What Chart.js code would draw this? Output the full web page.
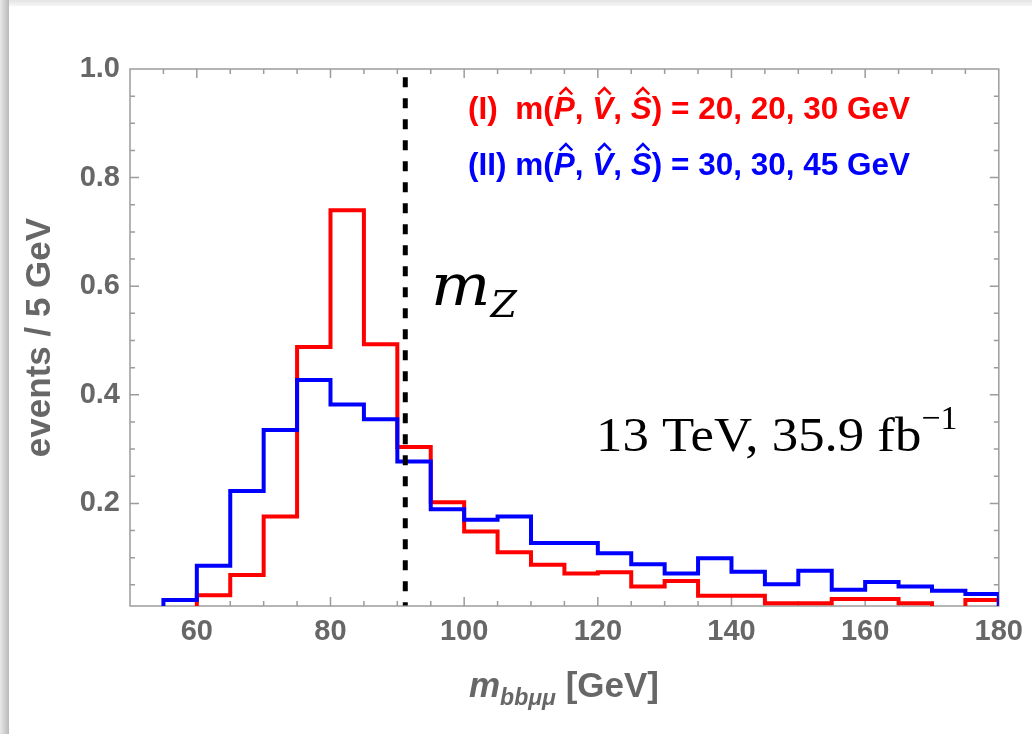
<!DOCTYPE html>
<html lang="en">
<head>
<meta charset="UTF-8">
<title>m_bbmumu distribution</title>
<script src="https://cdn.jsdelivr.net/npm/chart.js"></script>
<style>
  html, body { margin: 0; padding: 0; background: #fff; }
  #edgeTop { position: absolute; left: 0; top: 0; width: 1032px; height: 6px; background: linear-gradient(to bottom, #e4e4e4, #f6f6f6); }
  #edgeLeft { position: absolute; left: 0; top: 0; width: 9px; height: 734px; background: linear-gradient(to right, #e8e8e8, #b9b9b9); }
  #chart { position: absolute; left: 0; top: 0; }
</style>
</head>
<body>
<div id="edgeTop"></div>
<div id="edgeLeft"></div>
<canvas id="chart" width="1032" height="734"></canvas>
<script>
  // lower bin edges (GeV), bins are 5 GeV wide
  const edgesBlue = [55, 60, 65, 70, 75, 80, 85, 90, 95, 100, 105, 110, 115, 120, 125, 130, 135, 140, 145, 150, 155, 160, 165, 170, 175];
  const valuesBlue = [0.022, 0.085, 0.223, 0.335, 0.427, 0.382, 0.355, 0.277, 0.189, 0.170, 0.176, 0.127, 0.127, 0.108, 0.088, 0.071, 0.099, 0.074, 0.051, 0.076, 0.041, 0.055, 0.047, 0.039, 0.033];
  const edgesRed = [60, 65, 70, 75, 80, 85, 90, 95, 100, 105, 110, 115, 120, 125, 130, 135, 140, 145, 150, 155, 160, 165, 170, 175];
  const valuesRed = [0.031, 0.068, 0.176, 0.488, 0.740, 0.493, 0.304, 0.202, 0.148, 0.110, 0.087, 0.071, 0.073, 0.047, 0.057, 0.030, 0.030, 0.016, 0.016, 0.024, 0.024, 0.016, 0.005, 0.022];
  const upperEdge = 180;
  const mZ = 91.19;

  const xTicks = [60, 80, 100, 120, 140, 160, 180];
  const yTicks = [0.2, 0.4, 0.6, 0.8, 1.0];

  const labelRed = ['(I)  m(', 'P', ', ', 'V', ', ', 'S', ') = 20, 20, 30 GeV'];
  const labelBlue = ['(II) m(', 'P', ', ', 'V', ', ', 'S', ') = 30, 30, 45 GeV'];

  const gray = '#676767';

  // histogram outline as stepped points
  function stepPoints(edges, values) {
    const pts = [{ x: edges[0], y: 0 }];
    edges.forEach((e, i) => pts.push({ x: e, y: values[i] }));
    pts.push({ x: upperEdge, y: values[values.length - 1] });
    pts.push({ x: upperEdge, y: 0 });
    return pts;
  }

  // frame with inward ticks (Mathematica style)
  const framePlugin = {
    id: 'frame',
    beforeDatasetsDraw(chart) {
      const { ctx, chartArea: a, scales: { x, y } } = chart;
      ctx.save();
      ctx.strokeStyle = '#9c9c9c';
      ctx.lineWidth = 1.5;
      ctx.strokeRect(a.left, a.top, a.right - a.left, a.bottom - a.top);
      ctx.beginPath();
      for (let v = 55; v < 180; v += 5) {
        const px = x.getPixelForValue(v);
        const len = v % 20 === 0 ? 9 : 5;
        ctx.moveTo(px, a.bottom); ctx.lineTo(px, a.bottom - len);
        ctx.moveTo(px, a.top); ctx.lineTo(px, a.top + len);
      }
      for (let i = 1; i < 20; i++) {
        const py = y.getPixelForValue(i * 0.05);
        const len = i % 4 === 0 ? 9 : 5;
        ctx.moveTo(a.left, py); ctx.lineTo(a.left + len, py);
        ctx.moveTo(a.right, py); ctx.lineTo(a.right - len, py);
      }
      ctx.stroke();
      ctx.restore();
    }
  };

  function drawRuns(ctx, runs, x, y) {
    runs.forEach(r => {
      const sx = r.sx || 1;
      ctx.font = r.font;
      ctx.save();
      ctx.translate(x, y + (r.dy || 0));
      ctx.scale(sx, 1);
      ctx.fillText(r.text, 0, 0);
      ctx.restore();
      const w = ctx.measureText(r.text).width * sx;
      if (r.hat) {
        const cx = x + w * 0.58;
        const top = y - r.size * 0.98;
        ctx.beginPath();
        ctx.moveTo(cx - r.size * 0.2, top + r.size * 0.2);
        ctx.lineTo(cx, top);
        ctx.lineTo(cx + r.size * 0.2, top + r.size * 0.2);
        ctx.lineWidth = r.size * 0.08;
        ctx.strokeStyle = ctx.fillStyle;
        ctx.stroke();
      }
      x += w;
    });
    return x;
  }

  function legendRuns(parts, size) {
    const b = 'bold ' + size + 'px "Liberation Sans", Arial, sans-serif';
    const bi = 'italic bold ' + size + 'px "Liberation Sans", Arial, sans-serif';
    return parts.map((t, i) => ({ text: t, font: i % 2 === 1 ? bi : b, hat: i % 2 === 1, size: size }));
  }

  const textPlugin = {
    id: 'texts',
    afterDraw(chart) {
      const ctx = chart.ctx;
      ctx.save();
      ctx.textBaseline = 'alphabetic';
      ctx.textAlign = 'left';

      ctx.fillStyle = '#ff0000';
      drawRuns(ctx, legendRuns(labelRed, 31.5), 468, 119);
      ctx.fillStyle = '#0000ff';
      drawRuns(ctx, legendRuns(labelBlue, 31.5), 468, 175);

      ctx.fillStyle = '#000';
      drawRuns(ctx, [
        { text: 'm', font: 'italic 58px "DejaVu Serif", serif', sx: 1.08 },
        { text: 'Z', font: 'italic 38px "DejaVu Serif", serif', dy: 12 }
      ], 431, 305);

      drawRuns(ctx, [
        { text: '13 TeV, 35.9 fb', font: '48px "Liberation Serif", serif', sx: 1.1 },
        { text: '\u22121', font: '34px "Liberation Serif", serif', dy: -22 }
      ], 596, 451);

      // x axis title
      ctx.fillStyle = gray;
      const xt = [
        { text: 'm', font: 'italic bold 35px "Liberation Sans", Arial, sans-serif' },
        { text: 'bb\u03bc\u03bc', font: 'italic bold 23px "Liberation Sans", Arial, sans-serif', dy: 8 },
        { text: ' [GeV]', font: 'bold 35px "Liberation Sans", Arial, sans-serif' }
      ];
      let w = 0;
      xt.forEach(r => { ctx.font = r.font; w += ctx.measureText(r.text).width; });
      drawRuns(ctx, xt, 564 - w / 2, 697);
      ctx.restore();
    }
  };

  const tickFont = { family: '"Liberation Sans", Arial, sans-serif', size: 29, weight: 'bold' };

  new Chart(document.getElementById('chart'), {
    type: 'line',
    data: {
      datasets: [
        {
          label: 'm_Z',
          data: [{ x: mZ, y: 0.985 }, { x: mZ, y: 0.012 }],
          borderColor: '#000',
          borderWidth: 5,
          borderDash: [10, 11],
          pointRadius: 0
        },
        {
          label: '(II)',
          data: stepPoints(edgesBlue, valuesBlue),
          borderColor: '#0000ff',
          borderWidth: 4,
          stepped: 'before',
          pointRadius: 0
        },
        {
          label: '(I)',
          data: stepPoints(edgesRed, valuesRed),
          borderColor: '#ff0000',
          borderWidth: 4,
          stepped: 'before',
          pointRadius: 0
        }
      ]
    },
    options: {
      responsive: false,
      animation: false,
      layout: { padding: { top: 69, right: 33, left: 0, bottom: 0 } },
      plugins: {
        legend: { display: false },
        tooltip: { enabled: false }
      },
      scales: {
        x: {
          type: 'linear',
          min: 50,
          max: upperEdge,
          afterFit: s => { s.height = 128; },
          afterBuildTicks: s => { s.ticks = xTicks.map(v => ({ value: v })); },
          grid: { display: false, drawTicks: false },
          border: { display: false },
          ticks: { autoSkip: false, maxRotation: 0, padding: 9, color: gray, font: tickFont, callback: v => v }
        },
        y: {
          type: 'linear',
          min: 0.011,
          max: 1.0,
          afterFit: s => { s.width = 130; },
          afterBuildTicks: s => { s.ticks = yTicks.map(v => ({ value: v })); },
          grid: { display: false, drawTicks: false },
          border: { display: false },
          ticks: { padding: 10, color: gray, font: tickFont, callback: v => v.toFixed(1) },
          title: {
            display: true,
            text: 'events / 5 GeV',
            color: gray,
            font: { family: '"Liberation Sans", Arial, sans-serif', size: 35, weight: 'bold' },
            padding: { top: 19, bottom: 0 }
          }
        }
      }
    },
    plugins: [framePlugin, textPlugin]
  });
</script>
</body>
</html>
